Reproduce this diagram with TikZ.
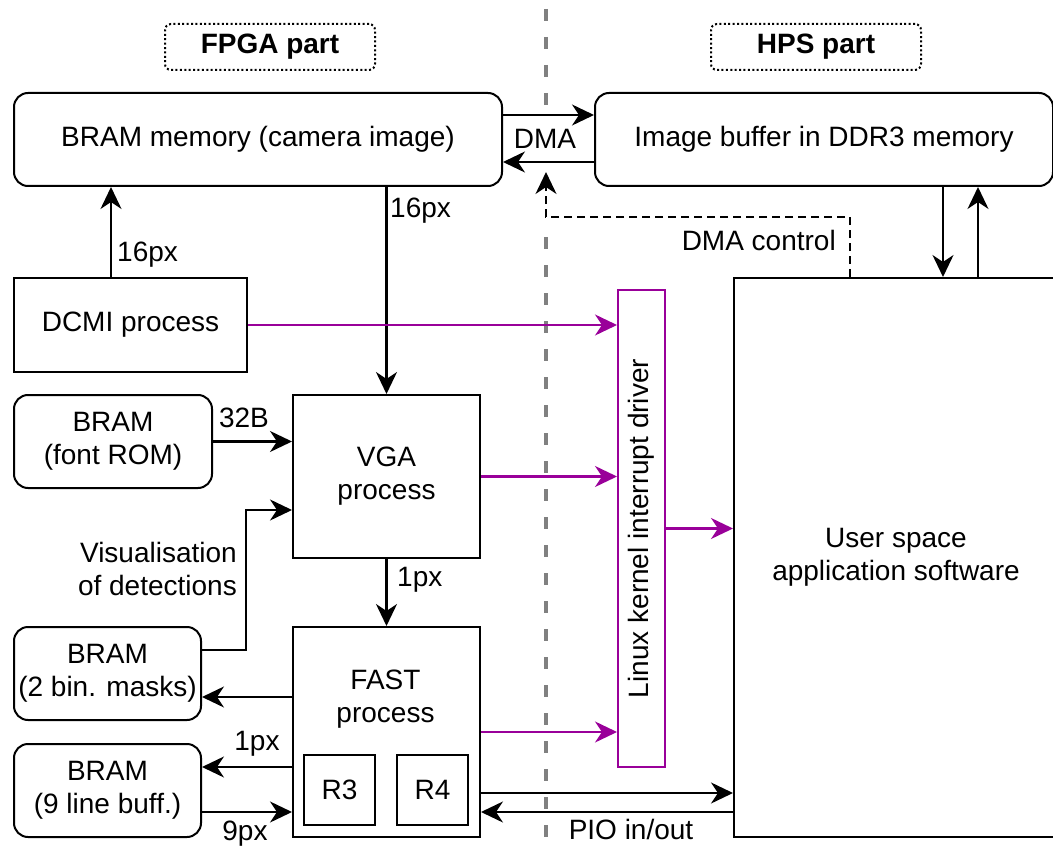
\documentclass[tikz,border=0pt]{standalone}
\usepackage{fontspec}
\setmainfont{Liberation Sans}
\usetikzlibrary{arrows.meta,calc}
\definecolor{irqpurple}{RGB}{153,0,153}
\definecolor{divgray}{RGB}{128,128,128}
\begin{document}
\begin{tikzpicture}[x=1pt,y=-1pt,
  font=\fontsize{28}{33}\selectfont,
  box/.style={draw, line width=2pt, inner sep=0pt, anchor=north west, align=center},
  rbox/.style={box, rounded corners=14pt},
  tag/.style={draw, line width=2pt, dash pattern=on 2pt off 2.4pt, rounded corners=6pt,
    inner sep=0pt, anchor=north west, font=\fontsize{28}{33}\selectfont\bfseries},
  arr/.style={line width=2.2pt, -{Stealth[length=22pt,width=21pt,inset=7pt]}},
  irq/.style={arr, draw=irqpurple, fill=irqpurple},
  ctl/.style={arr, dash pattern=on 8pt off 5pt},
  divider/.style={draw=divgray, line width=4pt, dash pattern=on 12pt off 16pt},
  lbl/.style={inner sep=0pt, align=center},
]
\useasboundingbox (0,0) rectangle (1053,848);
\clip (0,0) rectangle (1053,848);

% FPGA / HPS boundary
\draw[divider] (546,9) -- (546,106);
\draw[divider] (546,237) -- (546,848);

% section tags
\node[tag, minimum width=210pt, minimum height=46pt] (fpga) at (164,23) {FPGA part};
\node[tag, minimum width=210pt, minimum height=46pt] (hps) at (710,23) {HPS part};

% memories and processes
\node[rbox, minimum width=488pt, minimum height=93pt] (bram) at (13,92) {BRAM memory (camera image)};
\node[rbox, minimum width=458pt, minimum height=93pt] (buf) at (594,92) {Image buffer in DDR3 memory};
\node[box, minimum width=233pt, minimum height=94pt] (dcmi) at (13,277) {DCMI process};
\node[rbox, minimum width=198pt, minimum height=93pt] (font) at (13,394) {BRAM\\(font ROM)};
\node[box, minimum width=187pt, minimum height=163pt] (vga) at (292,394) {VGA\\process};
\node[rbox, minimum width=187pt, minimum height=93pt] (masks) at (13,626) {BRAM\\(2 bin. masks)};
\node[rbox, minimum width=187pt, minimum height=93pt] (lineb) at (13,743) {BRAM\\(9 line buff.)};
\node[box, minimum width=187pt, minimum height=210pt] (fast) at (292,626) {};
\node[lbl] (fastlbl) at (385.5,699) {FAST\\process};
\node[box, minimum width=71pt, minimum height=70pt] (r3) at (303,754) {R3};
\node[box, minimum width=71pt, minimum height=70pt] (r4) at (396,754) {R4};
\node[box, draw=irqpurple, minimum width=47pt, minimum height=477pt] (drv) at (617,289) {};
\node[lbl, rotate=90] (drvlbl) at (drv.center) {Linux kernel interrupt driver};
\node[box, minimum width=324pt, minimum height=559pt] (user) at (733,277) {User space\\application software};

% data paths
\draw[arr] (dcmi.north -| 111,0) -- (bram.south -| 111,0);
\draw[arr] (bram.south -| vga.north) -- (vga.north);
\draw[arr] (font.east) -- (font.east -| vga.west);
\draw[arr] (masks.east |- 0,650) -| (246,510) -- (vga.west |- 0,510);
\draw[arr] (vga.south) -- (fast.north);
\draw[arr] (fast.west |- 0,697) -- (masks.east |- 0,697);
\draw[arr] (fast.west |- 0,767) -- (lineb.east |- 0,767);
\draw[arr] (lineb.east |- 0,812) -- (fast.west |- 0,812);
\draw[arr] (fast.east |- 0,793) -- (user.west |- 0,793);
\draw[arr] (user.west |- 0,812) -- (fast.east |- 0,812);
\draw[arr] (bram.east |- 0,115) -- (buf.west |- 0,115);
\draw[arr] (buf.west |- 0,162) -- (bram.east |- 0,162);
\draw[arr] (buf.south -| 943,0) -- (user.north -| 943,0);
\draw[arr] (user.north -| 978,0) -- (buf.south -| 978,0);

% DMA control from user space
\coordinate (dmactl) at (546,172);
\draw[ctl] (user.north -| 850,0) |- (546,217) -- (dmactl);

% interrupt lines
\draw[irq] (dcmi.east) -- (dcmi.east -| drv.west);
\draw[irq] (vga.east) -- (vga.east -| drv.west);
\draw[irq] (fast.east) -- (fast.east -| drv.west);
\draw[irq] (drv.east) -- (drv.east -| user.west);

% connector labels
\node[lbl, anchor=west] (l16a) at (117,255) {16px};
\node[lbl, anchor=west] (l16b) at (390,211) {16px};
\node[lbl] (l32) at (244,418) {32B};
\node[lbl, anchor=east, align=right] (lvis) at (237,569) {Visualisation\\of detections};
\node[lbl, anchor=west] (l1a) at (397,580) {1px};
\node[lbl] (l1b) at (257,744) {1px};
\node[lbl] (l9) at (245,834) {9px};
\node[lbl] (lpio) at (631,829) {PIO in/out};
\node[lbl, anchor=east] (ldmac) at (836,240) {DMA control};
\node[lbl] (ldma) at (545,139) {DMA};
\end{tikzpicture}
\end{document}
